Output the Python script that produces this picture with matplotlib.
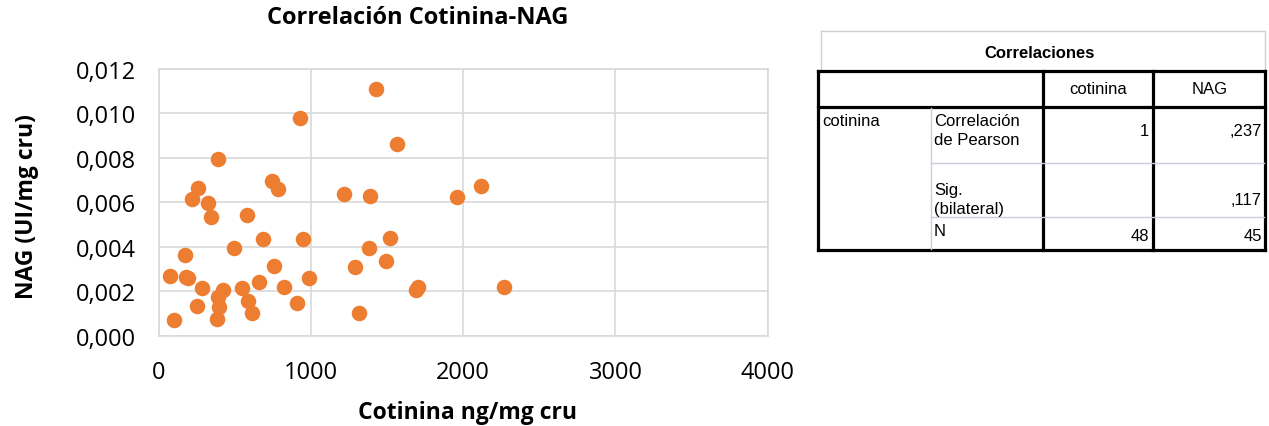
import matplotlib
matplotlib.use('agg')

import matplotlib.pyplot as plt
from matplotlib.ticker import FuncFormatter

# cotinina (ng/mg cru) vs NAG (UI/mg cru)
cotinina = [1427, 926, 1565, 387, 746, 785, 260, 217, 326, 346,
            580, 1217, 1387, 1959, 2114, 2269, 687, 947, 494, 1517,
            1381, 1492, 1287, 175, 76, 182, 192, 282, 424, 391,
            396, 381, 251, 103, 545, 657, 586, 615, 759, 825,
            908, 985, 1317, 1691, 1703]
nag = [0.01110, 0.00981, 0.00861, 0.00795, 0.00695, 0.00661, 0.00665, 0.00615, 0.00597, 0.00533,
       0.00544, 0.00638, 0.00629, 0.00626, 0.00675, 0.00219, 0.00435, 0.00436, 0.00396, 0.00440,
       0.00393, 0.00336, 0.00310, 0.00363, 0.00269, 0.00265, 0.00258, 0.00213, 0.00207, 0.00173,
       0.00131, 0.00075, 0.00132, 0.00071, 0.00213, 0.00240, 0.00155, 0.00102, 0.00314, 0.00219,
       0.00147, 0.00258, 0.00101, 0.00206, 0.00220]

x_ticks = [0, 1000, 2000, 3000, 4000]
y_ticks = [0.000, 0.002, 0.004, 0.006, 0.008, 0.010, 0.012]

# SPSS table
tbl_title = "Correlaciones"
tbl_cols = ["cotinina", "NAG"]
tbl_row = "cotinina"
tbl_stats = ["Correlación\nde Pearson", "Sig.\n(bilateral)", "N"]
tbl_cotinina = ["1", "", "48"]
tbl_nag = [",237", ",117", "45"]

W, H = 1269, 427
FONT = 'Open Sans'
fig = plt.figure(figsize=(W / 100, H / 100), dpi=100)

ax = fig.add_axes([158.7 / W, 1 - 336.7 / H, 609 / W, 266.7 / H])
ax.scatter(cotinina, nag, s=125, color='#ED7D31', zorder=3, linewidths=0)
ax.set_xlim(0, 4000)
ax.set_ylim(0, 0.012)
ax.set_xticks(x_ticks)
ax.set_yticks(y_ticks)
ax.yaxis.set_major_formatter(FuncFormatter(lambda v, p: f"{v:.3f}".replace('.', ',')))
ax.grid(True, color='#D9D9D9', linewidth=1.2)
ax.set_axisbelow(True)
for s in ax.spines.values():
    s.set_color('#D9D9D9')
    s.set_linewidth(1.2)
ax.tick_params(length=0, labelsize=17, colors='#000000')
ax.tick_params(axis='y', pad=16.5)
ax.tick_params(axis='x', pad=17.5)
for lab in ax.get_xticklabels() + ax.get_yticklabels():
    lab.set_family(FONT)
ax.set_xlabel("Cotinina ng/mg cru", fontsize=16.5, fontweight='bold', family=FONT)
ax.set_ylabel("NAG (UI/mg cru)", fontsize=16.5, fontweight='bold', family=FONT)
ax.xaxis.set_label_coords((467.5 - 158.7) / 609, (336.7 - 413) / 266.7)
ax.xaxis.label.set_va('center')
ax.yaxis.set_label_coords((27 - 158.7) / 609, (336.7 - 207) / 266.7)
ax.yaxis.label.set_va('center')
fig.text(418 / W, 1 - 18 / H, "Correlación Cotinina-NAG", ha='center', va='center',
         fontsize=17, fontweight='bold', family=FONT)

# table overlay in pixel coordinates
ov = fig.add_axes([0, 0, 1, 1])
ov.set_xlim(0, W)
ov.set_ylim(H, 0)
ov.axis('off')

tf = dict(family=['Liberation Sans Narrow', 'Liberation Sans'], fontsize=12, color='black')
gray = '#C8CFD8'
# title box
ov.plot([821, 1265, 1265], [32, 32, 71], color='#D0D0D0', lw=1)
ov.plot([821, 821], [32, 71], color='#D0D0D0', lw=1)
ov.text(1040, 54, tbl_title, ha='center', va='center', fontweight='bold', **tf)
# thick lines
for y in (71.7, 108, 250.5):
    ov.plot([818, 1265], [y, y], color='black', lw=2.3, solid_capstyle='projecting')
for x in (818, 1042.7, 1153.3, 1265):
    ov.plot([x, x], [71.7, 250.5], color='black', lw=2.3, solid_capstyle='projecting')
# thin lines
ov.plot([931, 931], [109, 249.5], color=gray, lw=1)
for y in (164.3, 218.3):
    ov.plot([931, 1264], [y, y], color=gray, lw=1)

ov.text(1098, 90, tbl_cols[0], ha='center', va='center', **tf)
ov.text(1210, 90, tbl_cols[1], ha='center', va='center', **tf)
ov.text(822, 121, tbl_row, ha='left', va='center', **tf)
stat_mid = [131, 200, 232]
val_mid = [132, 201, 237]
for i, stat in enumerate(tbl_stats):
    ov.text(934, stat_mid[i], stat, ha='left', va='center', linespacing=1.35, **tf)
    ov.text(1149, val_mid[i], tbl_cotinina[i], ha='right', va='center', **tf)
    ov.text(1262, val_mid[i], tbl_nag[i], ha='right', va='center', **tf)

fig.savefig('out.png', dpi=100)
